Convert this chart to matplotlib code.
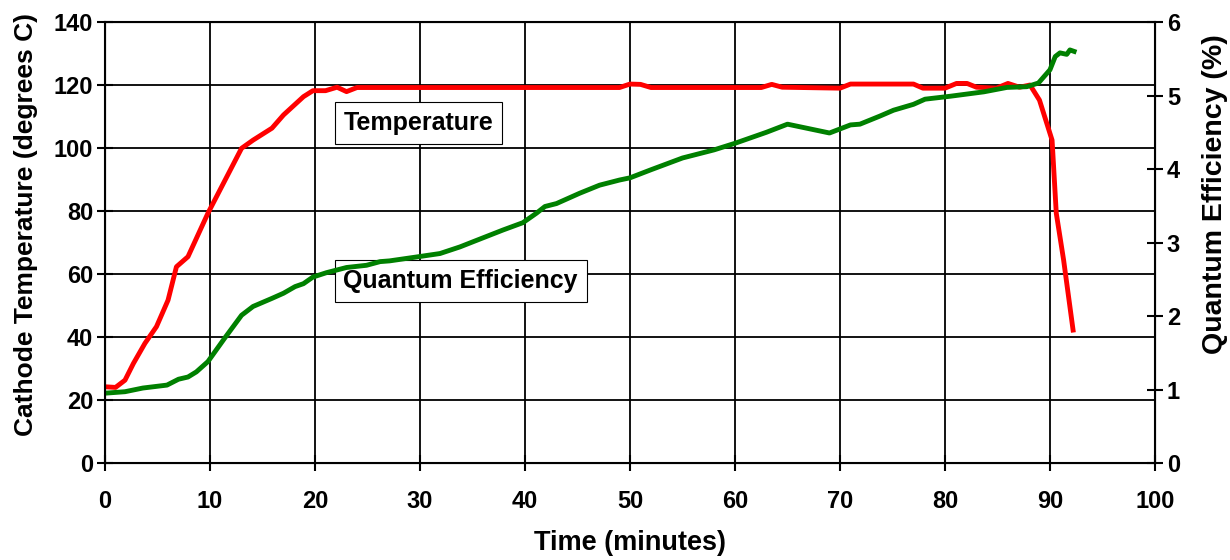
import matplotlib.pyplot as plt

plt.rcParams['font.family'] = ['Liberation Sans', 'DejaVu Sans']
plt.rcParams['font.weight'] = 'bold'

# cathode temperature (deg C) vs time (min)
time_temp = [0, 1, 1.9, 2.7, 3.8, 4.9, 6.0, 6.8, 7.9, 9.8, 13.0, 14.1, 15.9, 17.0,
             18.9, 19.8, 21.0, 22.1, 23.0, 24.0, 49.0, 50.0, 51.0, 52.0, 62.5, 63.5,
             64.5, 70.0, 71.0, 77.0, 77.9, 80.0, 81.1, 82.1, 83.0, 84.9, 86.0, 87.1,
             88.1, 89.0, 90.2, 90.6, 91.3, 92.2]
temp = [24.2, 24.0, 26.3, 31.6, 38.0, 43.3, 51.7, 62.3, 65.5, 79.3, 99.9, 102.5, 106.3, 110.5,
        116.3, 118.2, 118.2, 119.3, 117.9, 119.2, 119.2, 120.3, 120.2, 119.2, 119.2, 120.2,
        119.3, 119.0, 120.3, 120.3, 119.0, 119.0, 120.5, 120.5, 119.3, 119.0, 120.5, 119.3,
        120.0, 115.2, 102.5, 79.3, 64.4, 42.2]

# quantum efficiency (%) vs time (min)
time_qe = [0, 1.9, 3.6, 5.9, 7.0, 7.9, 8.7, 9.8, 11.4, 13.0, 14.1, 15.9, 17.0, 18.1, 18.9,
           19.8, 21.1, 23.0, 24.9, 26.2, 27.1, 30.0, 31.9, 33.8, 35.4, 37.9, 39.8, 41.1,
           41.9, 43.0, 45.2, 47.1, 49.0, 50.0, 52.0, 55.0, 58.0, 60.0, 63.0, 65.0, 69.0,
           71.0, 71.9, 73.8, 75.1, 77.0, 78.1, 80.5, 83.7, 85.9, 87.8, 88.9, 90.0, 90.5,
           90.95, 91.6, 91.9, 92.3]
qe = [0.95, 0.97, 1.02, 1.06, 1.14, 1.17, 1.24, 1.38, 1.70, 2.01, 2.13, 2.24, 2.31, 2.40, 2.44,
      2.53, 2.59, 2.66, 2.69, 2.74, 2.75, 2.81, 2.85, 2.94, 3.03, 3.17, 3.27, 3.40,
      3.49, 3.53, 3.67, 3.78, 3.85, 3.88, 3.99, 4.15, 4.26, 4.35, 4.50, 4.61, 4.49,
      4.60, 4.61, 4.72, 4.80, 4.88, 4.95, 4.99, 5.05, 5.11, 5.12, 5.17, 5.35, 5.53,
      5.58, 5.56, 5.62, 5.60]

fig, ax = plt.subplots(figsize=(12.3, 5.6), dpi=100)
fig.subplots_adjust(left=0.0854, right=0.939, top=0.9607, bottom=0.1732)

ax.plot(time_temp, temp, color='red', linewidth=3.5, solid_joinstyle='round')
ax.set_xlim(0, 100)
ax.set_ylim(0, 140)
ax.set_xticks(range(0, 101, 10))
ax.set_yticks(range(0, 141, 20))
ax.grid(color='black', linewidth=1.3)
ax.tick_params(direction='inout', length=11, width=1.5, labelsize=17)
ax.tick_params(axis='x', pad=14)
ax.tick_params(axis='y', pad=3)
for s in ax.spines.values():
    s.set_linewidth(1.5)

ax.set_xlabel('Time (minutes)', fontsize=19.5, fontweight='bold', labelpad=12)
ax.set_ylabel('Cathode Temperature (degrees C)', fontsize=19, fontweight='bold')
ax.yaxis.set_label_coords(-0.064, 0.54)

ax2 = ax.twinx()
ax2.plot(time_qe, qe, color='#008000', linewidth=3.5, solid_joinstyle='round')
ax2.set_ylim(0, 6)
ax2.set_yticks(range(0, 7))
ax2.tick_params(direction='inout', length=11, width=1.5, labelsize=17, pad=3)
ax2.set_ylabel('Quantum Efficiency (%)', fontsize=20.5, fontweight='bold')
ax2.yaxis.set_label_coords(1.045, 0.61)

box = dict(boxstyle='square,pad=0.35', facecolor='white', edgecolor='black', linewidth=0.8)
ax.text(22.7, 107.9, 'Temperature', fontsize=18, fontweight='bold', va='center', bbox=box)
ax.text(22.7, 57.8, 'Quantum Efficiency', fontsize=18, fontweight='bold', va='center', bbox=box)

fig.savefig('out.png', dpi=100)
